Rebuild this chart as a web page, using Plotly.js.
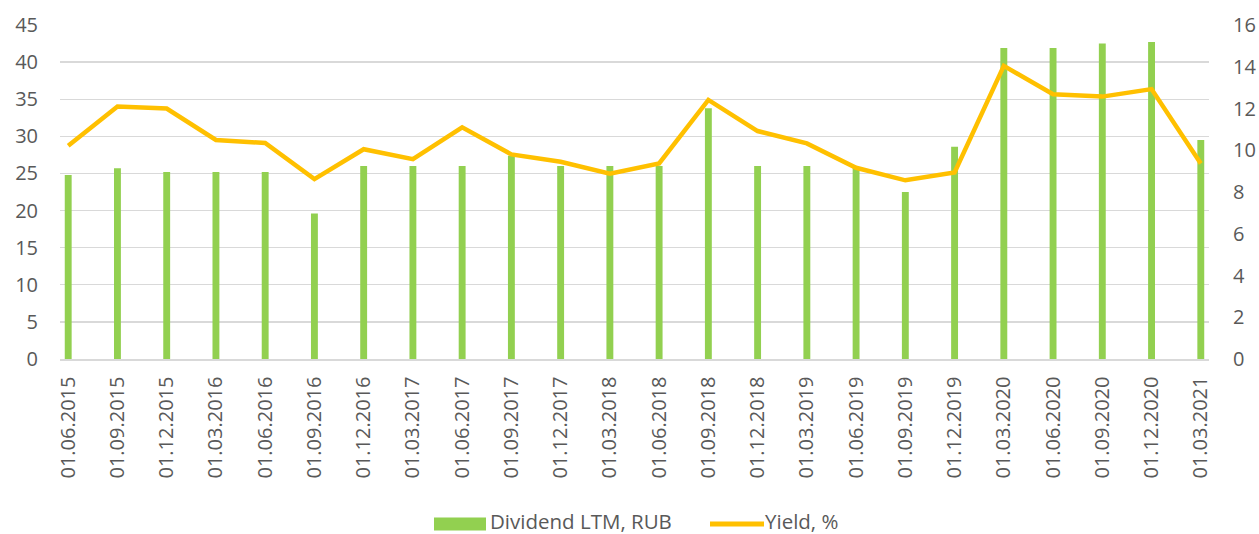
<!DOCTYPE html>
<html>
<head>
<meta charset="utf-8">
<script src="https://cdn.plot.ly/plotly-3.0.1.min.js"></script>
<style>html,body{margin:0;padding:0;background:#fff;}#chart{width:1259px;height:534px;}</style>
</head>
<body>
<div id="chart"></div>
<script>
const dates = ["01.06.2015","01.09.2015","01.12.2015","01.03.2016","01.06.2016","01.09.2016","01.12.2016","01.03.2017","01.06.2017","01.09.2017","01.12.2017","01.03.2018","01.06.2018","01.09.2018","01.12.2018","01.03.2019","01.06.2019","01.09.2019","01.12.2019","01.03.2020","01.06.2020","01.09.2020","01.12.2020","01.03.2021"];
const dividendLTM = [24.8,25.7,25.2,25.2,25.2,19.6,26.0,26.0,26.0,27.4,26.0,26.0,26.0,33.8,26.0,26.0,25.8,22.5,28.6,41.9,41.9,42.5,42.7,29.5];
const yieldPct = [10.22,12.1,12.0,10.49,10.35,8.62,10.05,9.57,11.1,9.8,9.45,8.88,9.37,12.41,10.92,10.33,9.16,8.56,8.94,14.04,12.68,12.57,12.93,9.37];
const leftTicks = [0,5,10,15,20,25,30,35,40,45];
const rightTicks = [0,2,4,6,8,10,12,14,16];
const seriesNames = ["Dividend LTM, RUB","Yield, %"];

const FONT = "Open Sans, Noto Sans, sans-serif";
const TXT = "#595959";
const GRID = "#D9D9D9";
const half = 1/6;
const n = dates.length;

const traces = [
  {type:"bar", x:dates, y:dividendLTM, name:seriesNames[0], marker:{color:"#92D050"}, width:0.14, yaxis:"y", xaxis:"x", hoverinfo:"skip"},
  {type:"scatter", mode:"lines", x:dates, y:yieldPct, name:seriesNames[1], line:{color:"#FFC000", width:4.5}, yaxis:"y2", xaxis:"x", hoverinfo:"skip"}
];

const plotL = 60, plotR = 1209, plotT = 25, plotB = 359;
const W = plotR-plotL, H = plotB-plotT;
const px = v => (v-plotL)/W;
const py = v => (plotB-v)/H;

const layout = {
  width:1259, height:534,
  margin:{l:plotL, r:1259-plotR, t:plotT, b:534-plotB},
  paper_bgcolor:"#fff", plot_bgcolor:"#fff",
  showlegend:false,
  font:{family:FONT, color:TXT, size:20},
  xaxis:{type:"category", range:[-half, n-1+half], tickangle:-90, ticks:"", showgrid:false,
         showline:true, linecolor:GRID, linewidth:1.5, tickfont:{size:20, color:TXT, family:FONT}, ticklabelstandoff:8, zeroline:false},
  xaxis2:{type:"linear", overlaying:"x", anchor:"y", side:"bottom", range:[-half, n-1+half],
          tickmode:"array", tickvals:dates.map((d,i)=>i-half), ticks:"outside", ticklen:8, tickwidth:1.5, tickcolor:GRID,
          showticklabels:false, showgrid:false, showline:false, zeroline:false},
  yaxis:{range:[0,45], tickmode:"array", tickvals:leftTicks, showgrid:true, gridcolor:GRID, gridwidth:1.3,
         zeroline:false, showline:false, ticks:"", tickfont:{size:20, color:TXT, family:FONT}, ticklabelstandoff:21},
  yaxis2:{range:[0,16], tickmode:"array", tickvals:rightTicks, overlaying:"y", side:"right", showgrid:false,
          zeroline:false, showline:false, ticks:"", tickfont:{size:20, color:TXT, family:FONT}, ticklabelstandoff:23},
  shapes:[
    {type:"rect", xref:"paper", yref:"paper", x0:px(434), x1:px(486), y0:py(530.5), y1:py(517.5), fillcolor:"#92D050", line:{width:0}},
    {type:"line", xref:"paper", yref:"paper", x0:px(710), x1:px(764), y0:py(524), y1:py(524), line:{color:"#FFC000", width:5}}
  ],
  annotations:[
    {xref:"paper", yref:"paper", x:px(489), y:py(521), text:seriesNames[0], showarrow:false, xanchor:"left", yanchor:"middle", borderpad:0, font:{size:20.5, color:TXT, family:FONT}},
    {xref:"paper", yref:"paper", x:px(764), y:py(521), text:seriesNames[1], showarrow:false, xanchor:"left", yanchor:"middle", borderpad:0, font:{size:20.5, color:TXT, family:FONT}}
  ]
};

Plotly.newPlot("chart", traces, layout, {staticPlot:true, displayModeBar:false});
</script>
</body>
</html>
